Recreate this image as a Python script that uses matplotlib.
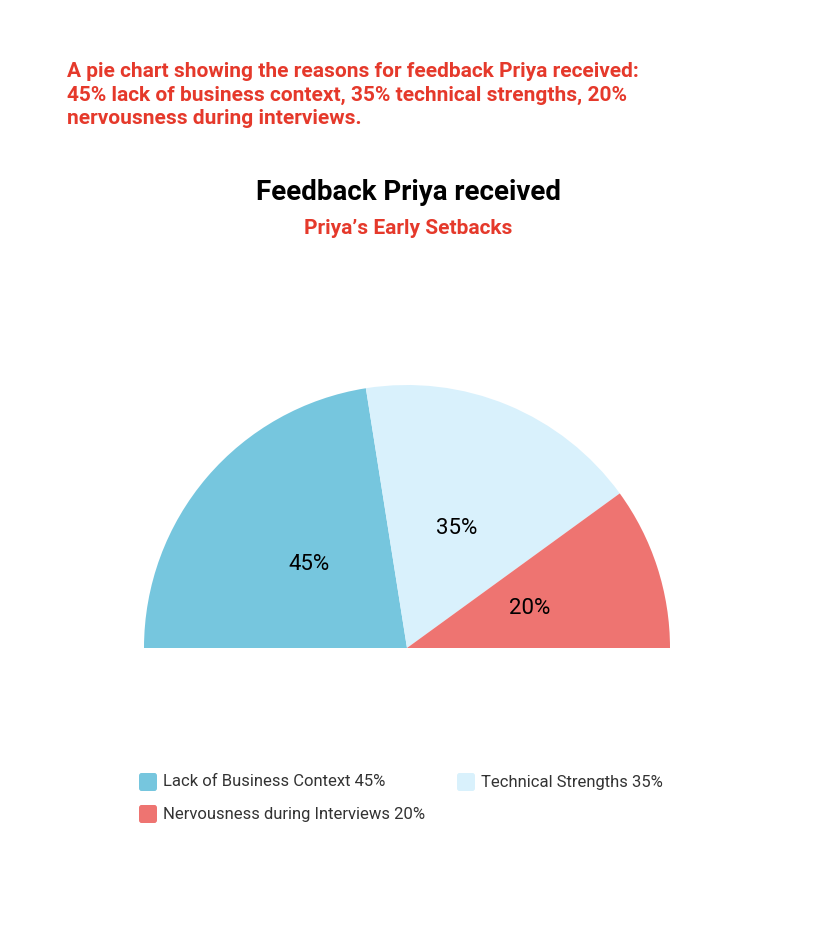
import matplotlib
matplotlib.use("Agg")
import matplotlib.pyplot as plt
from matplotlib.patches import FancyBboxPatch

labels = ["Lack of Business Context", "Technical Strengths", "Nervousness during Interviews"]
values = [45, 35, 20]
colors = ["#76C6DE", "#D9F1FC", "#EE7471"]
red = "#E5392B"

W, H = 816, 925
fig = plt.figure(figsize=(W/100, H/100), dpi=100)
plt.rcParams["font.family"] = "Roboto"

ax = fig.add_axes([144/W, 14/H, 526/W, 526/H])
ws, texts = ax.pie(values + [sum(values)], colors=colors + ["none"], startangle=180,
                   counterclock=False, radius=1, wedgeprops=dict(linewidth=0))[:2]
ws[-1].set_visible(False)
ang = 180
for v in values:
    import math
    mid = math.radians(ang - v*0.9)
    ax.text(0.49*math.cos(mid), 0.49*math.sin(mid), f"{v}%", ha="center", va="center", fontsize=16)
    ang -= v*1.8
ax.set_xlim(-1, 1); ax.set_ylim(-1, 1); ax.set_aspect("equal"); ax.axis("off")

fig.text(67/W, 1-62/H, "A pie chart showing the reasons for feedback Priya received:\n45% lack of business context, 35% technical strengths, 20%\nnervousness during interviews.",
         color=red, fontsize=15, fontweight="bold", va="top", ha="left", linespacing=1.3)
fig.text(408/W, 1-192/H, "Feedback Priya received", fontsize=20, fontweight="bold", ha="center", va="center")
fig.text(408/W, 1-229/H, "Priya’s Early Setbacks", fontsize=15, fontweight="bold", color=red, ha="center", va="center")

leg = [(139, 782, 0), (457, 782, 1), (139, 814, 2)]
for x, y, i in leg:
    fig.patches.append(FancyBboxPatch((x/W, 1-(y+9)/H), 18/W, 18/H, boxstyle="round,pad=0,rounding_size=0.003",
                                      transform=fig.transFigure, facecolor=colors[i], edgecolor="none"))
    fig.text((x+24)/W, 1-y/H, f"{labels[i]} {values[i]}%", fontsize=12, va="center", ha="left", color="#333333")

fig.savefig("out.png", dpi=100, facecolor="white")
